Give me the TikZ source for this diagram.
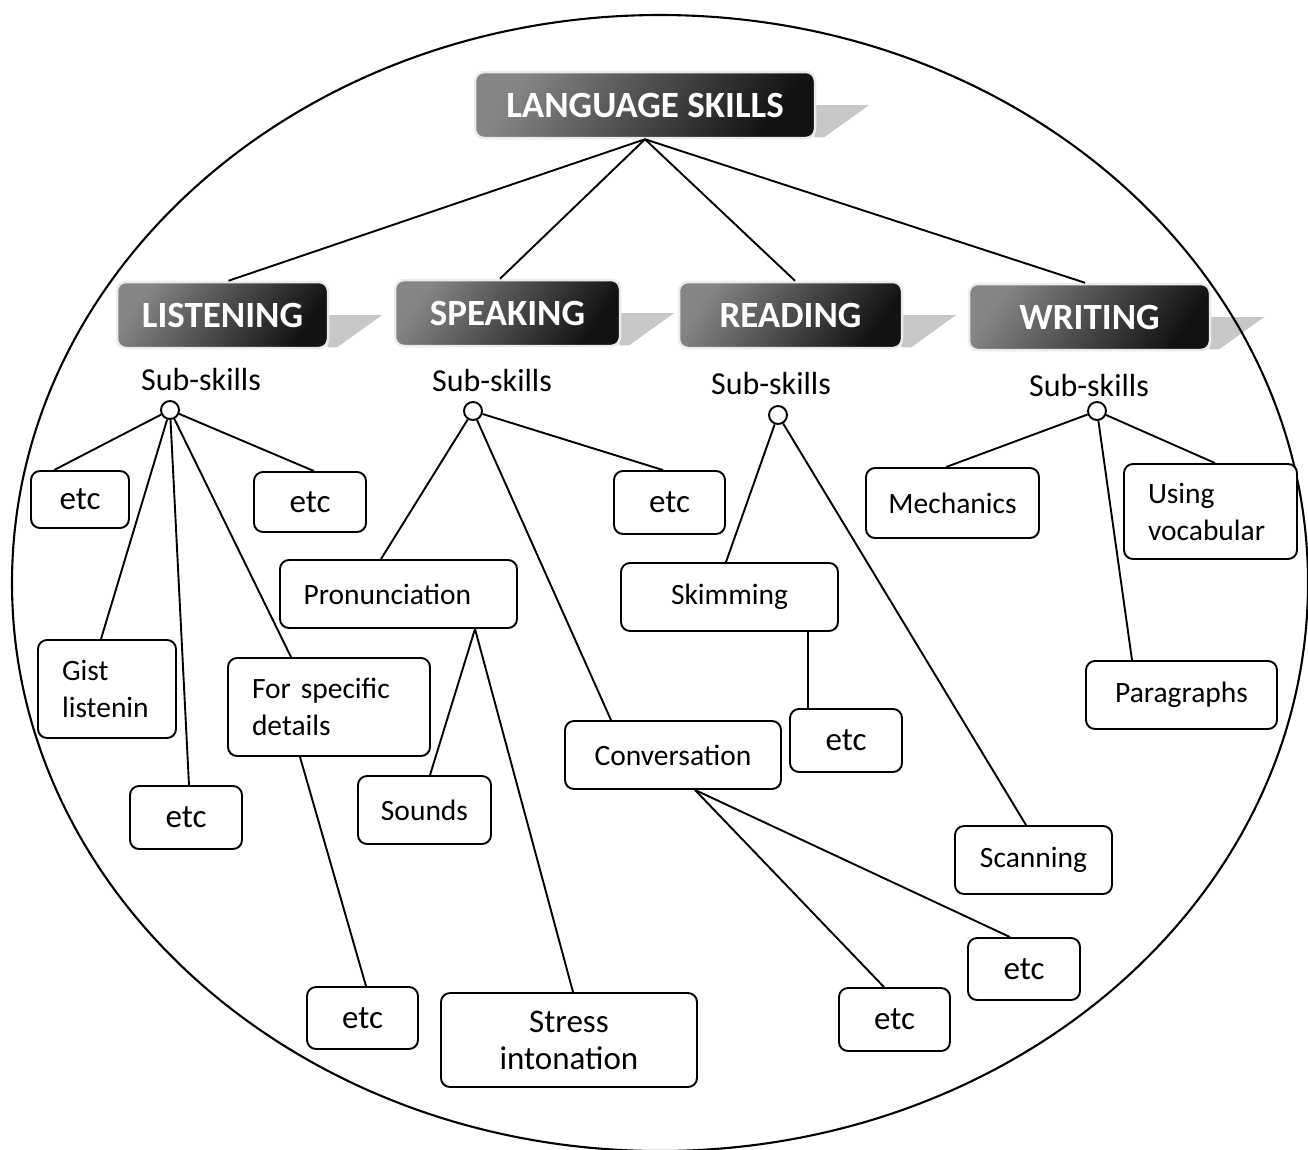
\documentclass[tikz,border=0pt]{standalone}
\usepackage{fontspec}
\setmainfont{Carlito}
\usetikzlibrary{calc}
\pgfdeclarelayer{bg}
\pgfsetlayers{bg,main}
\begin{document}
\begin{tikzpicture}[x=1pt,y=-1pt,
  conn/.style={line width=1.9pt},
  hdr/.style={rounded corners=9pt, draw=black!8, line width=2.5pt,
    top color=black!48, bottom color=black!93, shading angle=55,
    text=white, font=\fontsize{37}{42}\bfseries\selectfont, inner sep=0pt},
  tail/.style={fill=black!22, draw=none},
  box/.style={draw, line width=1.9pt, rounded corners=9pt, inner sep=0pt, fill=white,
    font=\fontsize{29.5}{37}\selectfont, align=center},
  lbox/.style={box, align=left, inner xsep=24pt},
  etcbox/.style={box, font=\fontsize{33}{37}\selectfont},
  sub/.style={font=\fontsize{32}{36}\selectfont, anchor=base, inner sep=0pt},
  hub/.style={circle, draw, line width=1.9pt, fill=white, minimum size=18pt, inner sep=0pt}
]
\useasboundingbox (0,0) rectangle (1308,1149);
\draw[line width=2.1pt] (660,583) ellipse [x radius=648pt, y radius=568pt];

% headers
\node[hdr, minimum width=340pt, minimum height=66pt] (lang) at (645,105) {LANGUAGE SKILLS};
\node[hdr, minimum width=211pt, minimum height=66pt] (listen) at (222.5,315) {LISTENING};
\node[hdr, minimum width=225pt, minimum height=66pt] (speak) at (507.5,313) {SPEAKING};
\node[hdr, minimum width=223pt, minimum height=66pt] (read) at (790.5,315) {READING};
\node[hdr, minimum width=241pt, minimum height=66pt] (write) at (1089.5,317) {WRITING};

\begin{pgfonlayer}{bg}
\foreach \h in {lang,listen,speak,read,write}{
  \fill[tail] ([xshift=-2pt]\h.east) -- ++(55,0) -- ([xshift=8pt,yshift=2pt]\h.south east) -- ([xshift=-2pt,yshift=2pt]\h.south east) -- cycle;
}
\end{pgfonlayer}

% sub-skills labels and hubs
\node[sub] (s1) at (201,390) {Sub-skills};
\node[sub] (s2) at (492,391) {Sub-skills};
\node[sub] (s3) at (771,394) {Sub-skills};
\node[sub] (s4) at (1089,396) {Sub-skills};
\node[hub] (c1) at (170,410) {};
\node[hub] (c2) at (473,411) {};
\node[hub] (c3) at (778,415) {};
\node[hub] (c4) at (1097,411) {};

% listening boxes
\node[etcbox, minimum width=98pt, minimum height=57pt] (e1) at (80,499.5) {etc};
\node[etcbox, minimum width=112pt, minimum height=60pt] (e2) at (310,502) {etc};
\node[lbox, text width=90pt, minimum height=98pt] (gist) at (107,689) {Gist\\listenin};
\node[etcbox, minimum width=112pt, minimum height=63pt] (e3) at (186,817.5) {etc};
\node[lbox, text width=154pt, minimum height=98pt] (spec) at (329,707) {For specific\\details};
\node[etcbox, minimum width=111pt, minimum height=62pt] (e4) at (362.5,1018) {etc};

% speaking boxes
\node[lbox, text width=190pt, inner xsep=23.5pt, minimum height=68pt] (pron) at (398.5,594) {Pronunciation};
\node[etcbox, minimum width=111pt, minimum height=63pt] (e5) at (669.5,502.5) {etc};
\node[box, minimum width=216pt, minimum height=68pt] (conv) at (673,755) {Conversation};
\node[box, minimum width=133pt, minimum height=68pt] (sounds) at (424.5,810) {Sounds};
\node[etcbox, minimum width=256pt, minimum height=94pt] (stress) at (569,1040) {Stress\\intonation};
\node[etcbox, minimum width=111pt, minimum height=63pt] (e6) at (894.5,1019.5) {etc};
\node[etcbox, minimum width=112pt, minimum height=62pt] (e7) at (1024,969) {etc};

% reading boxes
\node[box, minimum width=217pt, minimum height=68pt] (skim) at (729.5,597) {Skimming};
\node[etcbox, minimum width=112pt, minimum height=63pt] (e8) at (846,740.5) {etc};
\node[box, minimum width=157pt, minimum height=68pt] (scan) at (1033.5,860) {Scanning};

% writing boxes
\node[box, minimum width=173pt, minimum height=70pt] (mech) at (952.5,503) {Mechanics};
\node[lbox, text width=125pt, minimum height=95pt] (vocab) at (1210.5,511.5) {Using\\vocabular};
\node[box, minimum width=191pt, minimum height=68pt] (para) at (1181.5,695) {Paragraphs};

% connectors: root
\draw[conn] (lang.south) -- ([xshift=6pt]listen.north);
\draw[conn] (lang.south) -- ([xshift=-7.5pt]speak.north);
\draw[conn] (lang.south) -- ([xshift=4.5pt]read.north);
\draw[conn] (lang.south) -- ([xshift=-4.5pt]write.north);

% listening
\draw[conn] (c1) -- ([xshift=24pt]e1.north west);
\draw[conn] (c1) -- ([xshift=4pt]e2.north);
\draw[conn] (c1) -- ([xshift=-6pt]gist.north);
\draw[conn] (c1) -- ([xshift=3pt]e3.north);
\draw[conn] (c1) -- ([xshift=-38pt]spec.north);
\draw[conn] ([xshift=-29pt]spec.south) -- ([xshift=3.5pt]e4.north);

% speaking
\draw[conn] (c2) -- ([xshift=-17.5pt]pron.north);
\draw[conn] (c2) -- ([xshift=-6.5pt]e5.north);
\draw[conn] (c2) -- ([xshift=-62pt]conv.north);
\draw[conn] ([xshift=76.5pt]pron.south) -- ([xshift=5.5pt]sounds.north);
\draw[conn] ([xshift=76.5pt]pron.south) -- ([xshift=4pt]stress.north);
\draw[conn] ([xshift=22pt]conv.south) -- ([xshift=-10.5pt]e6.north);
\draw[conn] ([xshift=22pt]conv.south) -- ([xshift=-14pt]e7.north);

% reading
\draw[conn] (c3) -- ([xshift=-3.5pt]skim.north);
\draw[conn] (c3) -- ([xshift=-7.5pt]scan.north);
\draw[conn] ([xshift=78.5pt]skim.south) -- ([xshift=-38pt]e8.north);

% writing
\draw[conn] (c4) -- ([xshift=-6.5pt]mech.north);
\draw[conn] (c4) -- ([xshift=4.5pt]vocab.north);
\draw[conn] (c4) -- ([xshift=-49.5pt]para.north);
\end{tikzpicture}
\end{document}
